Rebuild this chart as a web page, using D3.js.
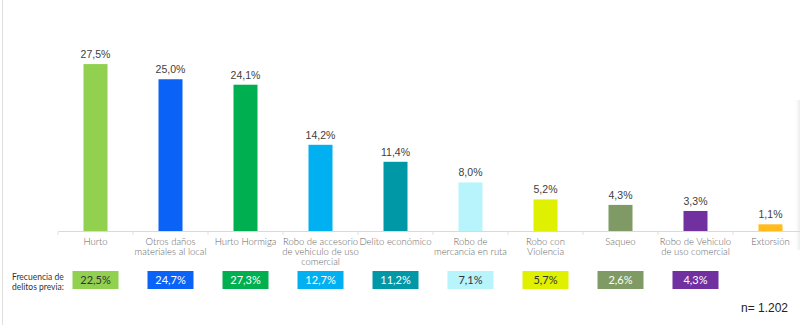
<!DOCTYPE html>
<html>
<head>
<meta charset="utf-8">
<script src="https://cdn.jsdelivr.net/npm/d3@7"></script>
<style>
  html, body { margin: 0; padding: 0; background: #fff; }
  svg { display: block; }
</style>
</head>
<body>
<svg id="chart" width="800" height="325"></svg>
<script>
// Crime categories (label lines), current share and previous frequency
const categories = [
  ["Hurto"],
  ["Otros daños", "materiales al local"],
  ["Hurto Hormiga"],
  ["Robo de accesorio", "de vehiculo de uso", "comercial"],
  ["Delito económico"],
  ["Robo de", "mercancia en ruta"],
  ["Robo con", "Violencia"],
  ["Saqueo"],
  ["Robo de Vehiculo", "de uso comercial"],
  ["Extorsión"]
];
const values = [27.5, 25.0, 24.1, 14.2, 11.4, 8.0, 5.2, 4.3, 3.3, 1.1];
const previous = [22.5, 24.7, 27.3, 12.7, 11.2, 7.1, 5.7, 2.6, 4.3, null];
const colors = ["#92d050", "#0a62f6", "#00b050", "#00b0f0", "#0097a7",
                "#b8f4fc", "#dff000", "#7f9a65", "#7030a0", "#ffbc1c"];
const darkText = [true, false, false, false, false, true, true, false, false, false];
const sampleLabel = "n= 1.202";
const previousLabel = ["Frecuencia de", "delitos previa:"];

const fmt = v => v.toFixed(1).replace(".", ",") + "%";

const svg = d3.select("#chart");

// frame line on the left edge
svg.append("line")
  .attr("x1", 2.5).attr("x2", 2.5).attr("y1", 0).attr("y2", 325)
  .attr("stroke", "#e0e0e0").attr("stroke-width", 1);

// faint shadow at the right edge
const grad = svg.append("defs").append("linearGradient")
  .attr("id", "shade").attr("x1", 0).attr("x2", 1).attr("y1", 0).attr("y2", 0);
grad.append("stop").attr("offset", 0).attr("stop-color", "#fff").attr("stop-opacity", 0);
grad.append("stop").attr("offset", 1).attr("stop-color", "#e2e2e2").attr("stop-opacity", 0.7);
svg.append("rect").attr("x", 794).attr("y", 100).attr("width", 6).attr("height", 150)
  .attr("fill", "url(#shade)");

const x0 = 58, bandW = 75, axisY = 231;
const x = d3.scaleBand()
  .domain(d3.range(categories.length))
  .range([x0, x0 + bandW * categories.length])
  .paddingInner(0).paddingOuter(0);

const y = d3.scaleLinear().domain([0, 30]).range([axisY, axisY - 30 * 6.07]);

const barW = 24;
const cx = i => x(i) + x.bandwidth() / 2;

// bars
svg.append("g").selectAll("rect")
  .data(values)
  .join("rect")
  .attr("x", (d, i) => cx(i) - barW / 2)
  .attr("y", d => y(d))
  .attr("width", barW)
  .attr("height", d => y(0) - y(d))
  .attr("fill", (d, i) => colors[i]);

// value labels
svg.append("g").selectAll("text")
  .data(values)
  .join("text")
  .attr("x", (d, i) => cx(i))
  .attr("y", d => y(d) - 6)
  .attr("text-anchor", "middle")
  .attr("font-family", "'Liberation Sans', Arial, sans-serif")
  .attr("font-size", "10.5px")
  .attr("fill", "#404040")
  .text(d => fmt(d));

// category axis
const axis = svg.append("g")
  .attr("transform", `translate(0,${axisY})`)
  .call(d3.axisBottom(x).tickSize(0).tickFormat(""));
axis.select(".domain").attr("stroke", "#d9d9d9").attr("stroke-width", 1);
axis.selectAll(".tick").remove();
// band separators
axis.selectAll("line.sep")
  .data(d3.range(categories.length + 1))
  .join("line")
  .attr("class", "sep")
  .attr("x1", i => x0 + i * bandW).attr("x2", i => x0 + i * bandW)
  .attr("y1", 0).attr("y2", 4)
  .attr("stroke", "#e0e0e0");

// category labels
const labels = svg.append("g").selectAll("text")
  .data(categories)
  .join("text")
  .attr("text-anchor", "middle")
  .attr("font-family", "Lato, 'Open Sans', sans-serif")
  .attr("font-weight", 300)
  .attr("font-size", "9.5px")
  .attr("fill", "#666");
labels.each(function(lines, i) {
  d3.select(this).selectAll("tspan")
    .data(lines)
    .join("tspan")
    .attr("x", cx(i))
    .attr("y", (l, k) => 245 + k * 10)
    .text(l => l);
});

// previous frequency row
svg.append("g").selectAll("text")
  .data(previousLabel)
  .join("text")
  .attr("x", 12)
  .attr("y", (d, k) => 280 + k * 9.5)
  .attr("font-family", "Lato, 'Open Sans', sans-serif")
  .attr("font-size", "8.5px")
  .attr("fill", "#333")
  .text(d => d);

const boxW = 46, boxH = 18, boxY = 271;
const prev = previous.map((v, i) => ({ v, i })).filter(d => d.v !== null);
const boxes = svg.append("g").selectAll("g")
  .data(prev)
  .join("g");
boxes.append("rect")
  .attr("x", d => cx(d.i) - boxW / 2)
  .attr("y", boxY)
  .attr("width", boxW)
  .attr("height", boxH)
  .attr("fill", d => colors[d.i]);
boxes.append("text")
  .attr("x", d => cx(d.i))
  .attr("y", boxY + boxH / 2 + 4)
  .attr("text-anchor", "middle")
  .attr("font-family", "Lato, 'Open Sans', sans-serif")
  .attr("font-size", "11px")
  .attr("fill", d => darkText[d.i] ? "#333" : "#fff")
  .text(d => fmt(d.v));

// sample size
svg.append("text")
  .attr("x", 788)
  .attr("y", 312)
  .attr("text-anchor", "end")
  .attr("font-family", "'Liberation Sans', Arial, sans-serif")
  .attr("font-size", "12px")
  .attr("fill", "#222")
  .text(sampleLabel);
</script>
</body>
</html>
